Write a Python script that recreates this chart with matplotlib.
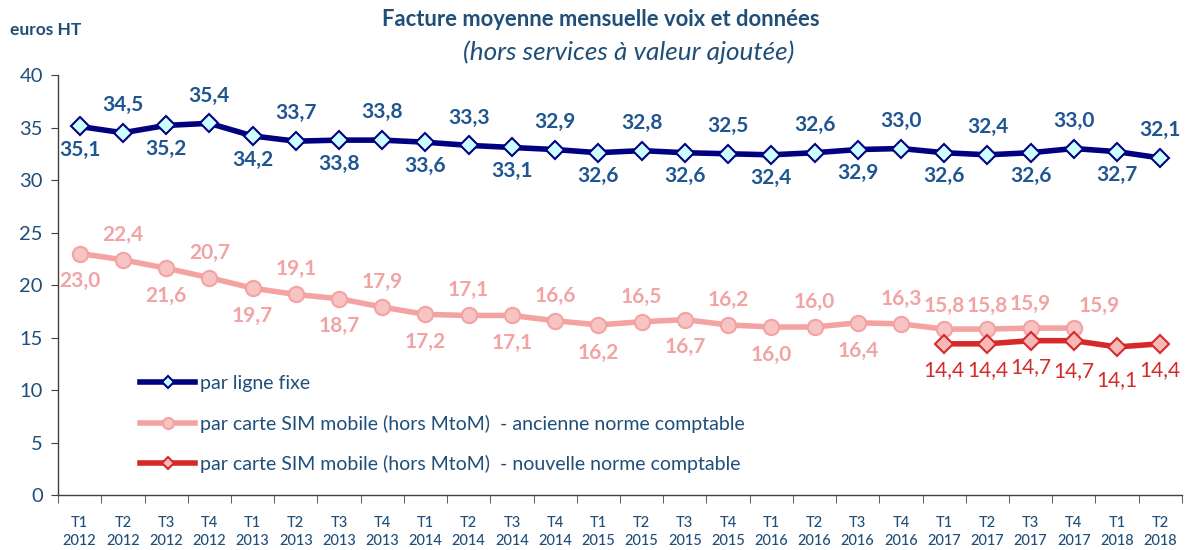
import matplotlib
matplotlib.use("Agg")
import matplotlib.pyplot as plt
from matplotlib.ticker import FixedLocator, NullFormatter

plt.rcParams['font.family'] = ['Lato', 'DejaVu Sans']

quarters = ["T1", "T2", "T3", "T4"] * 6 + ["T1", "T2"]
years = [str(y) for y in range(2012, 2018) for _ in range(4)] + ["2018", "2018"]
categories = [f"{q}\n{y}" for q, y in zip(quarters, years)]

fixe = [35.1, 34.5, 35.2, 35.4, 34.2, 33.7, 33.8, 33.8, 33.6, 33.3, 33.1, 32.9, 32.6,
        32.8, 32.6, 32.5, 32.4, 32.6, 32.9, 33.0, 32.6, 32.4, 32.6, 33.0, 32.7, 32.1]
mobile_ancienne = [23.0, 22.4, 21.6, 20.7, 19.7, 19.1, 18.7, 17.9, 17.2, 17.1, 17.1, 16.6,
                   16.2, 16.5, 16.7, 16.2, 16.0, 16.0, 16.4, 16.3, 15.8, 15.8, 15.9, 15.9]
mobile_nouvelle = [14.4, 14.4, 14.7, 14.7, 14.1, 14.4]
nouvelle_start = 20

series_names = ["par ligne fixe",
                "par carte SIM mobile (hors MtoM)  - ancienne norme comptable",
                "par carte SIM mobile (hors MtoM)  - nouvelle norme comptable"]

def fmt(v):
    return f"{v:.1f}".replace(".", ",")

TXT = "#1F4E79"
NAVY = "#000080"
PINK = "#F4A3A3"
PINK_LBL = "#F2A3A3"
RED = "#D62A2A"

fig = plt.figure(figsize=(12.02, 5.5), dpi=100)
ax = fig.add_axes([0.0483, 0.10, 0.935, 0.7636])

x_fixe = list(range(len(fixe)))
x_anc = list(range(len(mobile_ancienne)))
x_nouv = list(range(nouvelle_start, nouvelle_start + len(mobile_nouvelle)))

ax.plot(x_fixe, fixe, color=NAVY, lw=4, marker="D", ms=9, mfc="#CCFFFF",
        mec=NAVY, mew=1.5, label=series_names[0], zorder=4)
ax.plot(x_anc, mobile_ancienne, color=PINK, lw=4, marker="o", ms=11, mfc="#F7C3C3",
        mec=PINK, mew=1.5, label=series_names[1], zorder=3)
ax.plot(x_nouv, mobile_nouvelle, color=RED, lw=4, marker="D", ms=9, mfc="#F7B8B8",
        mec=RED, mew=1.5, label=series_names[2], zorder=4)

LBL = 15
for i, v in enumerate(fixe):
    dy = -17 if i % 2 == 0 else 20
    ax.annotate(fmt(v), (i, v), xytext=(0, dy), textcoords="offset points",
                ha="center", va="center", fontsize=LBL, fontweight="bold", color="#1F5591")

for i, v in enumerate(mobile_ancienne):
    if i >= 20:
        dy = 17
    else:
        dy = -20 if i % 2 == 0 else 18
    dx = 18 if i == 23 else 0
    if i == 23:
        dy = 16
    ax.annotate(fmt(v), (i, v), xytext=(dx, dy), textcoords="offset points",
                ha="center", va="center", fontsize=LBL, fontweight="bold", color=PINK_LBL)

for j, v in enumerate(mobile_nouvelle):
    i = nouvelle_start + j
    dy = -19 if j < 3 else (-22 if j == 3 else (-24 if j == 4 else -19))
    ax.annotate(fmt(v), (i, v), xytext=(0, dy), textcoords="offset points",
                ha="center", va="center", fontsize=LBL, color=RED)

ax.set_xlim(-0.5, len(categories) - 0.5)
ax.set_ylim(0, 40)
ax.set_yticks(range(0, 41, 5))
ax.tick_params(axis="y", direction="out", length=5, labelsize=14.5, labelcolor=TXT,
               color="#404040", pad=6)
ax.set_xticks(range(len(categories)))
ax.set_xticklabels(categories, fontsize=10.5, color=TXT, fontweight="medium",
                   linespacing=1.4)
ax.tick_params(axis="x", which="major", length=0, pad=15)
ax.xaxis.set_minor_locator(FixedLocator([i - 0.5 for i in range(len(categories) + 1)]))
ax.xaxis.set_minor_formatter(NullFormatter())
ax.tick_params(axis="x", which="minor", direction="out", length=6, color="#404040")

for s in ["top", "right"]:
    ax.spines[s].set_visible(False)
for s in ["left", "bottom"]:
    ax.spines[s].set_color("#404040")
    ax.spines[s].set_linewidth(1)

leg = ax.legend(loc="upper left", bbox_to_anchor=(140 / 1202, 1 - 375 / 550),
                bbox_transform=fig.transFigure, frameon=False, fontsize=14,
                handlelength=2.85, handletextpad=0.25, labelspacing=1.16,
                borderaxespad=0, borderpad=0, markerscale=0.72)
for t in leg.get_texts():
    t.set_color(TXT)

fig.text(0.5, 1 - 19 / 550, "Facture moyenne mensuelle voix et données", ha="center",
         va="center", fontsize=15.8, fontweight="bold", color=TXT)
fig.text(629 / 1202, 1 - 52 / 550, "(hors services à valeur ajoutée)", ha="center",
         va="center", fontsize=18.8, style="italic", color=TXT)
fig.text(10 / 1202, 1 - 30 / 550, "euros HT", ha="left", va="center",
         fontsize=12.5, fontweight="bold", color=TXT)

fig.savefig("out.png", dpi=100)
